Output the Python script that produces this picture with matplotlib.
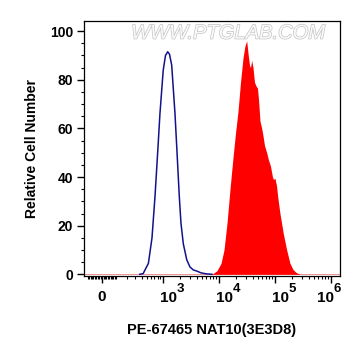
import numpy as np
import matplotlib
matplotlib.use("Agg")
import matplotlib.pyplot as plt
import matplotlib.ticker as mticker
import matplotlib.patheffects as pe

plt.rcParams['font.family'] = ['Liberation Sans', 'DejaVu Sans']
plt.rcParams['font.weight'] = 'bold'

# isotype / unstained control (blue outline)
ctrl_x = [370, 430, 540, 630, 715, 810, 880, 1010, 1110, 1215, 1310, 1435,
          1645, 1790, 1965, 2105, 2320, 2670, 3055, 3500, 4075, 4805, 5900, 7550]
ctrl_y = [0, 0.3, 4.5, 15, 32, 52, 66, 84, 90, 91.5, 90.5, 86,
          66, 50, 32, 21, 12.5, 6, 3, 1.8, 1.3, 0.6, 0.2, 0]

# stained sample (red filled)
stain_x = [7550, 9280, 10940, 12370, 14000, 15830, 17910, 19850, 22010, 24400,
           27050, 29350, 31460, 33180, 35300, 36780, 38630, 40780, 43350, 46120,
           49060, 51110, 54380, 58330, 61500, 65430, 71590, 77080, 83690, 90900,
           94700, 100700, 107100, 113900, 123700, 141700, 163000, 186600, 211200,
           238800, 281300]
stain_y = [0, 1.5, 4.5, 10, 21, 35, 48, 58, 67, 79,
           89, 94, 96, 91, 86, 85, 88, 85, 79, 77.5,
           76.5, 72, 63, 60, 57, 53, 50, 47, 44.5, 40,
           39, 39.5, 36.5, 31, 25, 16.8, 10, 4.5, 2,
           0.8, 0]

x_ticks = [0, 1e3, 1e4, 1e5, 1e6]
x_exps = ['', '3', '4', '5', '6']
y_ticks = [0, 20, 40, 60, 80, 100]

C = 82.0
def fwd(x):
    return np.arcsinh(np.asarray(x) / (2 * C)) / np.log(10)
def inv(y):
    return 2 * C * np.sinh(np.asarray(y) * np.log(10))

fig = plt.figure(figsize=(3.61, 3.56), dpi=100)
ax = fig.add_axes([0.2327, 0.2247, 0.7091, 0.7166])
ax.set_xscale('function', functions=(fwd, inv))
xmin, xmax = -133, 1.46e6

ax.plot([xmin, xmax], [0, 0], color='#f08080', lw=0.6, zorder=1)
ax.fill_between(stain_x, stain_y, 0, color='#ff0000', lw=0, zorder=2)
ax.plot(ctrl_x, ctrl_y, color='#12128c', lw=1.1, zorder=3)

ax.set_xlim(xmin, xmax)
ax.set_ylim(-0.7, 104.2)

ax.set_xticks(x_ticks)
ax.set_xticklabels([''] * len(x_ticks))
minor = []
for n in range(1, 6):
    for k in range(1, 10):
        v = k * 10 ** n
        if v not in x_ticks:
            minor.append(v)
minor += [-10 * k for k in range(1, 11)]
ax.xaxis.set_minor_locator(mticker.FixedLocator(minor))
ax.set_yticks(y_ticks)
ax.yaxis.set_minor_locator(mticker.MultipleLocator(5))

# decade labels drawn by hand so the exponent sits high like the original
px = 0.72
for i, (t, e) in enumerate(zip(x_ticks, x_exps)):
    if e == '':
        ax.annotate('0', xy=(t, 0), xycoords=('data', 'axes fraction'),
                    xytext=(0, -21 * px), textcoords='offset points',
                    ha='center', va='center', fontsize=11, fontweight='bold')
        continue
    shift = -14 if i == len(x_ticks) - 1 else -2.5
    ax.annotate('10', xy=(t, 0), xycoords=('data', 'axes fraction'),
                xytext=(shift * px, -21.5 * px), textcoords='offset points',
                ha='left', va='center', fontsize=11, fontweight='bold')
    ax.annotate(e, xy=(t, 0), xycoords=('data', 'axes fraction'),
                xytext=((shift + 16.5) * px, -13 * px), textcoords='offset points',
                ha='left', va='center', fontsize=9.5, fontweight='bold')

ax.tick_params(axis='both', which='major', direction='out', length=5, width=1)
ax.tick_params(axis='y', which='major', labelsize=10, pad=3)
ax.tick_params(axis='both', which='minor', direction='out', length=2.5, width=0.8)
for s in ax.spines.values():
    s.set_linewidth(0.9)

ax.set_xlabel('PE-67465 NAT10(3E3D8)', fontsize=10.5, fontweight='bold', labelpad=25)
ax.set_ylabel('Relative Cell Number', fontsize=10, fontweight='bold', labelpad=8)

ax.text(0.5625, 0.952, 'WWW.PTGLAB.COM', transform=ax.transAxes, ha='center', va='center',
        fontsize=14.5, fontstyle='italic', fontweight='normal', color='#fafafa', zorder=4,
        path_effects=[pe.withStroke(linewidth=1.0, foreground='#c4c4c4')])

fig.savefig('out.png', dpi=100)
